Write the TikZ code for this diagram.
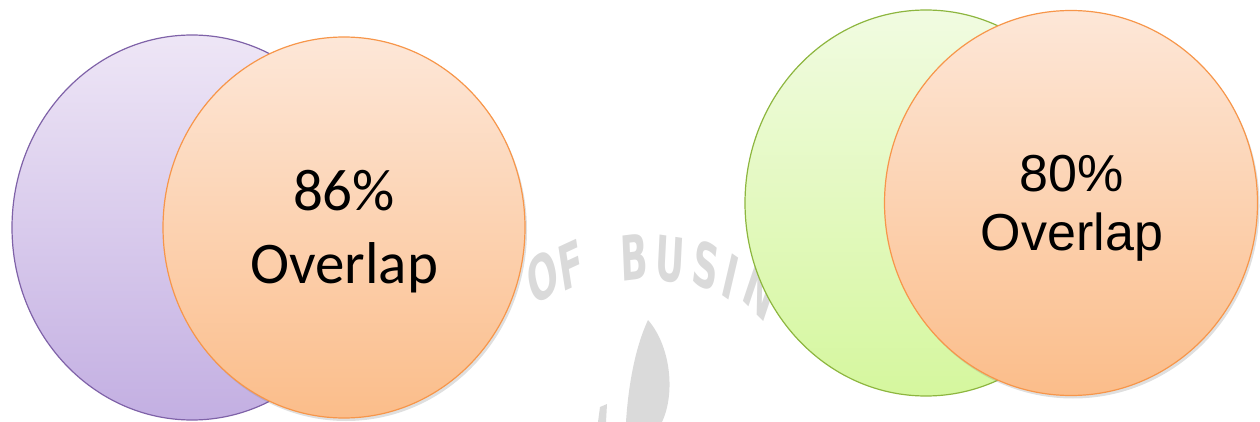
\documentclass[tikz,border=0pt]{standalone}
\usepackage{fontspec}
\usetikzlibrary{shapes.geometric,shadows}
\newfontfamily\carlito{Carlito}
\newfontfamily\lsans{Liberation Sans}
\newfontfamily\wmsans{DejaVu Sans}
\definecolor{purpTop}{HTML}{EEE6F6}
\definecolor{purpBot}{HTML}{C3AFE2}
\definecolor{purpLine}{HTML}{7F62A8}
\definecolor{orTop}{HTML}{FDE7D8}
\definecolor{orBot}{HTML}{FBBD8A}
\definecolor{orLine}{HTML}{F7964A}
\definecolor{grTop}{HTML}{F1FBE1}
\definecolor{grBot}{HTML}{D5F79E}
\definecolor{grLine}{HTML}{8DB63F}
\definecolor{wm}{HTML}{DADADA}
\tikzset{
  blob/.style={ellipse, inner sep=0pt, line width=1.2pt},
  purpblob/.style={blob, draw=purpLine, top color=purpTop, bottom color=purpBot},
  grblob/.style={blob, draw=grLine, top color=grTop, bottom color=grBot},
  orblob/.style={blob, draw=orLine, top color=orTop, bottom color=orBot,
    drop shadow={opacity=0.25, shadow xshift=2pt, shadow yshift=-3pt}},
  lbl/.style={anchor=base, inner sep=0pt, text=black},
  wmletter/.style={text=wm, inner sep=0pt, font=\wmsans\bfseries\fontsize{62}{62}\selectfont, xscale=0.58},
}
\begin{document}
\begin{tikzpicture}[x=1pt,y=-1pt]
\useasboundingbox (0,0) rectangle (1260,422);
% watermark
\node[wmletter, rotate=22] (w1) at (543,277) {O};
\node[wmletter, rotate=15] (w2) at (571,265) {F};
\node[wmletter, rotate=4] (w3) at (634,257) {B};
\node[wmletter, rotate=-5] (w4) at (670,260) {U};
\node[wmletter, rotate=-13] (w5) at (706,266) {S};
\node[wmletter, rotate=-22] (w6) at (731,277) {I};
\node[wmletter, rotate=-30] (w7) at (760,292) {N};
\fill[wm] (648,320) .. controls (670,345) and (676,392) .. (662,422) -- (626,422)
  .. controls (628,390) and (634,350) .. (648,320);
\fill[wm] (600,407) -- (607,404) -- (606,422) -- (598,422) -- cycle;
% left pair
\node[purpblob, minimum width=360pt, minimum height=385pt] (p) at (192,227.5) {};
\node[orblob, minimum width=362pt, minimum height=381pt] (o1) at (344,227.5) {};
\node[lbl, font=\carlito\fontsize{59}{72}\selectfont] (t1) at (344,211) {86\%};
\node[lbl, font=\carlito\fontsize{59}{72}\selectfont] (t2) at (344,283) {Overlap};
% right pair
\node[grblob, minimum width=362pt, minimum height=386pt] (g) at (926,203) {};
\node[orblob, minimum width=373pt, minimum height=385pt] (o2) at (1071,203) {};
\node[lbl, font=\lsans\fontsize{52}{58}\selectfont] (t3) at (1072,192) {80\%};
\node[lbl, font=\lsans\fontsize{52}{58}\selectfont] (t4) at (1072,250) {Overlap};
\end{tikzpicture}
\end{document}
